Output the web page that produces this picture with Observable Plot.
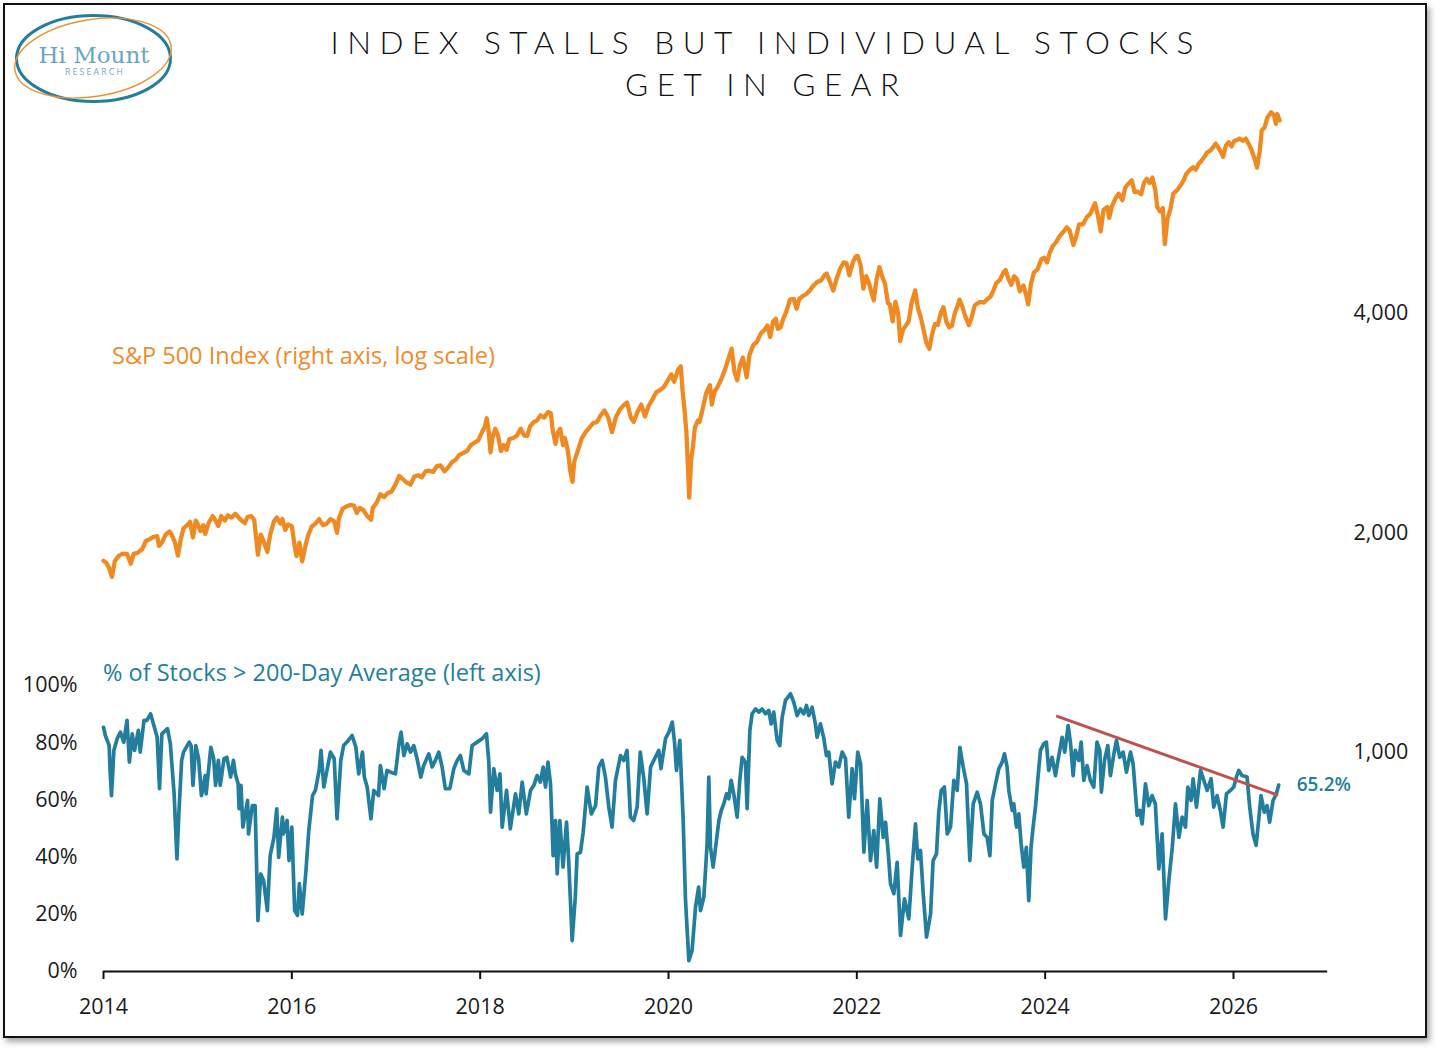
<!DOCTYPE html>
<html>
<head>
<meta charset="utf-8">
<script src="https://cdn.jsdelivr.net/npm/d3@7"></script>
<script src="https://cdn.jsdelivr.net/npm/@observablehq/plot@0.6"></script>
<style>
  html, body { margin: 0; padding: 0; background: #fff; }
  #page { position: relative; width: 1439px; height: 1050px; overflow: hidden; background: #fff; font-family: "Open Sans", sans-serif; }
  #frame { position: absolute; left: 3px; top: 3px; width: 1420px; height: 1031px; border: 2.5px solid #111; box-shadow: 3px 4px 6px rgba(0,0,0,0.35); background: #fff; }
  .layer { position: absolute; left: 0; top: 0; }
  .layer svg { overflow: visible; }
  #title { position: absolute; left: 262px; top: 21px; width: 1000px; text-align: center; font-family: "Lato", sans-serif; font-weight: 300; font-size: 31.5px; line-height: 42px; letter-spacing: 0.27em; color: #111; }
  #title span { display: block; padding-left: 0.27em; }
  .serieslabel { position: absolute; font-family: "Open Sans", sans-serif; font-size: 23.5px; white-space: nowrap; }
</style>
</head>
<body>
<div id="page">
  <div id="frame"></div>
  <svg class="layer" width="200" height="110" style="left:0;top:0">
    <ellipse cx="93.5" cy="58.5" rx="77" ry="43" fill="none" stroke="#237E9E" stroke-width="3"/>
    <ellipse cx="93" cy="58" rx="79" ry="38.5" fill="none" stroke="#EF8F2E" stroke-width="1.4" transform="rotate(-9 93 58)"/>
    <text x="94" y="63" text-anchor="middle" font-family="DejaVu Serif, Liberation Serif, serif" font-weight="200" font-size="23" fill="#6AA6C2" stroke="none">Hi Mount</text>
    <text x="95" y="74.5" text-anchor="middle" font-family="Open Sans, sans-serif" font-size="8.5" letter-spacing="2.3" fill="#6AA6C2">RESEARCH</text>
  </svg>
  <div id="title"><span>INDEX STALLS BUT INDIVIDUAL STOCKS</span><span>GET IN GEAR</span></div>
  <div id="spxchart" class="layer"></div>
  <div id="breadthchart" class="layer"></div>
  <div class="serieslabel" style="left:112px;top:339px;color:#EF8A28">S&amp;P 500 Index (right axis, log scale)</div>
  <div class="serieslabel" style="left:103px;top:656px;color:#237E9E">% of Stocks &gt; 200-Day Average (left axis)</div>
</div>
<script>
// ---------- DATA ----------
// S&P 500 index level, [decimal year, value]
const spx = [
[2014.00,1832],[2014.03,1820],[2014.06,1790],[2014.09,1741],[2014.12,1830],[2014.16,1859],[2014.20,1873],[2014.25,1872],[2014.29,1815],[2014.32,1872],[2014.36,1878],[2014.41,1900],[2014.45,1950],[2014.49,1962],[2014.53,1975],[2014.57,1980],[2014.59,1920],[2014.62,1940],[2014.66,1990],[2014.70,2010],[2014.72,1995],[2014.76,1940],[2014.79,1862],[2014.82,1960],[2014.85,2030],[2014.89,2050],[2014.92,2072],[2014.95,1972],[2014.98,2080],
[2015.00,2058],[2015.03,2012],[2015.06,2050],[2015.08,1994],[2015.12,2068],[2015.16,2110],[2015.19,2080],[2015.22,2045],[2015.25,2110],[2015.29,2080],[2015.32,2115],[2015.36,2100],[2015.40,2125],[2015.45,2090],[2015.50,2063],[2015.53,2105],[2015.57,2110],[2015.60,2085],[2015.64,1867],[2015.67,1990],[2015.70,1950],[2015.74,1884],[2015.77,1990],[2015.81,2075],[2015.84,2100],[2015.88,2060],[2015.90,2090],[2015.93,2020],[2015.96,2055],
[2016.00,2044],[2016.03,1920],[2016.05,1859],[2016.08,1940],[2016.11,1829],[2016.14,1910],[2016.17,1980],[2016.21,2040],[2016.25,2060],[2016.29,2090],[2016.33,2050],[2016.37,2060],[2016.41,2090],[2016.45,2075],[2016.48,2001],[2016.50,2095],[2016.54,2160],[2016.58,2175],[2016.62,2185],[2016.66,2180],[2016.69,2130],[2016.72,2165],[2016.76,2150],[2016.80,2110],[2016.84,2085],[2016.86,2165],[2016.90,2200],[2016.94,2260],[2016.98,2240],
[2017.02,2270],[2017.06,2280],[2017.10,2330],[2017.14,2395],[2017.18,2370],[2017.22,2345],[2017.26,2330],[2017.30,2390],[2017.34,2400],[2017.38,2385],[2017.42,2430],[2017.46,2435],[2017.50,2425],[2017.54,2470],[2017.58,2476],[2017.62,2430],[2017.66,2460],[2017.70,2500],[2017.74,2520],[2017.78,2560],[2017.82,2575],[2017.86,2590],[2017.90,2640],[2017.94,2660],[2017.98,2680],
[2018.02,2750],[2018.05,2800],[2018.07,2873],[2018.09,2762],[2018.11,2581],[2018.13,2700],[2018.16,2780],[2018.19,2720],[2018.22,2590],[2018.25,2640],[2018.28,2600],[2018.31,2690],[2018.35,2700],[2018.39,2720],[2018.43,2780],[2018.47,2720],[2018.50,2718],[2018.53,2800],[2018.57,2840],[2018.60,2850],[2018.64,2900],[2018.68,2880],[2018.72,2930],[2018.75,2920],[2018.77,2770],[2018.80,2650],[2018.82,2740],[2018.85,2780],[2018.88,2640],[2018.90,2700],[2018.93,2600],[2018.96,2420],[2018.98,2351],
[2019.00,2510],[2019.04,2600],[2019.08,2700],[2019.12,2750],[2019.16,2790],[2019.20,2830],[2019.24,2840],[2019.28,2900],[2019.32,2945],[2019.36,2880],[2019.40,2750],[2019.44,2880],[2019.48,2950],[2019.52,2990],[2019.56,3020],[2019.60,2880],[2019.63,2840],[2019.67,2930],[2019.71,3000],[2019.75,2890],[2019.79,2990],[2019.83,3050],[2019.87,3120],[2019.91,3140],[2019.95,3170],[2019.99,3235],
[2020.03,3300],[2020.06,3225],[2020.10,3345],[2020.13,3386],[2020.15,3130],[2020.17,2950],[2020.19,2750],[2020.21,2400],[2020.22,2237],[2020.24,2520],[2020.26,2630],[2020.28,2790],[2020.31,2850],[2020.33,2840],[2020.36,2950],[2020.40,3110],[2020.44,3190],[2020.46,3000],[2020.49,3130],[2020.52,3170],[2020.56,3250],[2020.60,3350],[2020.64,3480],[2020.67,3580],[2020.70,3330],[2020.73,3240],[2020.76,3400],[2020.79,3480],[2020.83,3270],[2020.86,3510],[2020.90,3620],[2020.94,3660],[2020.98,3756],
[2021.02,3800],[2021.05,3850],[2021.08,3714],[2021.11,3900],[2021.14,3935],[2021.16,3811],[2021.19,3830],[2021.22,3940],[2021.25,4020],[2021.29,4180],[2021.33,4190],[2021.36,4060],[2021.39,4190],[2021.43,4230],[2021.46,4250],[2021.50,4300],[2021.54,4370],[2021.58,4420],[2021.62,4440],[2021.66,4520],[2021.68,4537],[2021.72,4400],[2021.75,4300],[2021.78,4440],[2021.82,4600],[2021.86,4700],[2021.89,4690],[2021.92,4513],[2021.96,4710],[2021.99,4790],
[2022.01,4797],[2022.04,4660],[2022.07,4326],[2022.10,4500],[2022.13,4400],[2022.15,4300],[2022.18,4170],[2022.21,4460],[2022.24,4631],[2022.27,4490],[2022.30,4390],[2022.33,4130],[2022.35,4120],[2022.38,3901],[2022.41,4150],[2022.44,3990],[2022.46,3667],[2022.49,3800],[2022.52,3850],[2022.55,3900],[2022.58,4130],[2022.62,4305],[2022.65,4060],[2022.68,3950],[2022.71,3790],[2022.74,3640],[2022.77,3577],[2022.80,3750],[2022.83,3870],[2022.86,3860],[2022.89,4000],[2022.92,4080],[2022.95,3900],[2022.98,3830],
[2023.01,3850],[2023.04,4000],[2023.07,4100],[2023.09,4179],[2023.12,4090],[2023.15,3970],[2023.19,3855],[2023.22,3950],[2023.25,4100],[2023.28,4130],[2023.31,4150],[2023.35,4140],[2023.39,4190],[2023.42,4220],[2023.45,4300],[2023.48,4400],[2023.52,4450],[2023.56,4560],[2023.58,4589],[2023.61,4460],[2023.64,4380],[2023.67,4500],[2023.70,4460],[2023.73,4290],[2023.77,4370],[2023.80,4230],[2023.82,4117],[2023.85,4400],[2023.88,4550],[2023.92,4600],[2023.96,4750],[2023.99,4770],
[2024.02,4700],[2024.05,4850],[2024.08,4950],[2024.12,5020],[2024.15,5100],[2024.19,5170],[2024.23,5250],[2024.26,5200],[2024.30,4967],[2024.33,5100],[2024.36,5300],[2024.40,5300],[2024.44,5420],[2024.48,5480],[2024.51,5600],[2024.53,5667],[2024.56,5450],[2024.59,5186],[2024.62,5550],[2024.66,5600],[2024.68,5408],[2024.71,5620],[2024.75,5760],[2024.78,5840],[2024.82,5720],[2024.85,5950],[2024.88,6020],[2024.92,6090],[2024.95,5870],[2024.98,5880],
[2025.02,5830],[2025.05,6050],[2025.08,6119],[2025.11,6040],[2025.14,6144],[2025.17,5900],[2025.19,5600],[2025.22,5520],[2025.25,5580],[2025.27,4982],[2025.30,5400],[2025.33,5560],[2025.36,5840],[2025.40,5900],[2025.44,6000],[2025.47,6090],[2025.50,6220],[2025.54,6300],[2025.57,6350],[2025.60,6300],[2025.63,6420],[2025.66,6480],[2025.69,6560],[2025.72,6650],[2025.76,6700],[2025.79,6780],[2025.81,6840],[2025.84,6750],[2025.87,6650],[2025.89,6560],[2025.92,6800],[2025.95,6870],[2025.98,6780],
[2026.01,6900],[2026.04,6920],[2026.07,6950],[2026.10,6900],[2026.13,6950],[2026.17,6800],[2026.20,6660],[2026.23,6480],[2026.25,6340],[2026.28,6700],[2026.30,7130],[2026.33,7200],[2026.36,7430],[2026.40,7550],[2026.43,7480],[2026.45,7280],[2026.465,7510],[2026.49,7360]
];

// % of stocks above their 200-day average, [decimal year, percent]
const breadth = [
[2014.00,85.4],[2014.02,82.5],[2014.06,79.0],[2014.07,70.3],[2014.085,61.5],[2014.11,77.3],[2014.145,81.4],[2014.18,83.7],[2014.215,80.2],[2014.25,87.8],[2014.275,73.2],[2014.305,83.1],[2014.33,77.3],[2014.37,84.3],[2014.39,76.7],[2014.43,87.8],[2014.46,87.8],[2014.50,90.1],[2014.53,86.6],[2014.57,81.9],[2014.595,63.9],[2014.62,83.1],[2014.68,84.9],[2014.71,79.6],[2014.75,62.1],[2014.78,39.4],[2014.80,55.1],[2014.83,73.8],[2014.85,76.7],[2014.91,80.2],[2014.93,79.0],[2014.95,65.1],[2014.98,79.0],
[2015.01,74.4],[2015.04,61.5],[2015.08,68.5],[2015.09,62.1],[2015.14,78.4],[2015.17,74.4],[2015.19,65.1],[2015.22,73.8],[2015.24,65.1],[2015.28,74.4],[2015.31,74.9],[2015.35,68.0],[2015.38,73.8],[2015.40,69.1],[2015.43,65.6],[2015.44,56.9],[2015.46,65.1],[2015.48,50.5],[2015.53,59.8],[2015.54,48.1],[2015.58,58.0],[2015.61,58.0],[2015.64,17.8],[2015.67,34.1],[2015.70,31.8],[2015.74,21.3],[2015.77,40.5],[2015.81,46.9],[2015.84,56.9],[2015.86,39.9],[2015.90,54.0],[2015.91,48.1],[2015.95,52.8],[2015.97,38.8],
[2016.00,50.5],[2016.03,21.3],[2016.06,19.6],[2016.08,30.7],[2016.11,20.1],[2016.15,35.3],[2016.18,49.3],[2016.22,61.5],[2016.25,63.3],[2016.29,70.3],[2016.31,77.3],[2016.34,64.5],[2016.38,71.5],[2016.41,76.7],[2016.45,74.4],[2016.48,53.4],[2016.52,73.8],[2016.55,79.0],[2016.60,80.8],[2016.64,82.5],[2016.68,78.4],[2016.71,69.1],[2016.75,76.7],[2016.77,68.0],[2016.80,64.5],[2016.84,53.4],[2016.87,63.3],[2016.92,61.5],[2016.94,72.0],[2016.98,63.9],
[2017.01,70.3],[2017.05,69.7],[2017.10,69.1],[2017.14,80.2],[2017.16,83.7],[2017.19,75.5],[2017.225,79.6],[2017.26,76.7],[2017.295,79.0],[2017.33,74.4],[2017.37,68.0],[2017.40,72.0],[2017.455,76.1],[2017.49,71.5],[2017.525,73.8],[2017.56,76.7],[2017.596,71.5],[2017.63,63.9],[2017.678,63.9],[2017.72,70.9],[2017.756,73.8],[2017.79,75.5],[2017.826,70.3],[2017.88,69.1],[2017.915,79.0],[2017.968,80.2],
[2018.021,81.4],[2018.067,83.1],[2018.092,73.2],[2018.11,55.7],[2018.145,70.9],[2018.18,63.3],[2018.21,69.1],[2018.234,50.5],[2018.28,63.3],[2018.32,49.9],[2018.375,62.1],[2018.41,55.1],[2018.446,66.2],[2018.49,55.1],[2018.535,63.3],[2018.57,65.1],[2018.605,68.5],[2018.64,66.2],[2018.669,71.5],[2018.694,64.5],[2018.72,73.2],[2018.747,65.6],[2018.775,40.5],[2018.80,52.8],[2018.818,34.1],[2018.846,52.8],[2018.88,36.5],[2018.917,52.2],[2018.94,38.8],[2018.977,10.8],
[2019.01,26.0],[2019.03,41.1],[2019.065,41.7],[2019.094,48.7],[2019.136,64.5],[2019.18,55.1],[2019.225,58.0],[2019.26,71.5],[2019.296,73.8],[2019.33,68.0],[2019.366,57.5],[2019.40,50.5],[2019.437,66.8],[2019.49,75.5],[2019.525,73.8],[2019.56,77.3],[2019.596,54.0],[2019.63,52.8],[2019.667,57.5],[2019.70,76.7],[2019.738,67.4],[2019.773,55.1],[2019.81,71.5],[2019.86,74.9],[2019.897,77.3],[2019.92,70.9],[2019.968,81.4],
[2020.004,83.7],[2020.04,87.2],[2020.064,80.2],[2020.085,70.3],[2020.12,80.8],[2020.156,52.8],[2020.18,25.4],[2020.216,3.8],[2020.25,7.3],[2020.287,22.5],[2020.32,29.5],[2020.34,21.3],[2020.375,26.0],[2020.393,35.3],[2020.41,44.6],[2020.428,68.0],[2020.446,43.4],[2020.474,36.5],[2020.50,43.4],[2020.535,52.8],[2020.56,56.3],[2020.587,58.6],[2020.616,62.1],[2020.64,60.4],[2020.665,66.8],[2020.693,62.1],[2020.729,54.0],[2020.757,66.8],[2020.782,74.9],[2020.817,73.2],[2020.835,56.9],[2020.864,84.3],[2020.888,90.1],[2020.924,91.8],[2020.96,90.7],[2020.994,91.8],
[2021.03,90.1],[2021.065,91.3],[2021.09,86.6],[2021.118,90.7],[2021.154,80.8],[2021.182,79.0],[2021.207,88.9],[2021.242,94.8],[2021.295,97.1],[2021.33,94.2],[2021.366,89.5],[2021.40,91.8],[2021.437,90.1],[2021.465,93.0],[2021.49,89.5],[2021.525,92.4],[2021.56,86.6],[2021.578,81.9],[2021.614,86.6],[2021.65,81.4],[2021.677,75.5],[2021.702,76.7],[2021.737,65.6],[2021.773,73.2],[2021.808,71.5],[2021.844,76.7],[2021.88,74.4],[2021.914,54.0],[2021.95,70.9],[2021.975,60.4],
[2022.01,76.7],[2022.04,72.6],[2022.075,41.7],[2022.11,59.8],[2022.145,38.8],[2022.18,49.3],[2022.21,36.5],[2022.244,60.4],[2022.28,46.9],[2022.305,52.2],[2022.34,38.8],[2022.357,30.7],[2022.393,27.2],[2022.428,38.2],[2022.464,12.6],[2022.506,25.4],[2022.552,18.4],[2022.588,36.5],[2022.623,51.6],[2022.648,39.4],[2022.676,42.3],[2022.705,27.2],[2022.74,12.0],[2022.783,20.1],[2022.81,38.8],[2022.846,41.1],[2022.87,55.7],[2022.896,63.3],[2022.93,64.5],[2022.96,48.1],[2022.995,50.5],
[2023.03,66.8],[2023.066,63.3],[2023.094,78.4],[2023.13,71.5],[2023.165,65.6],[2023.20,38.8],[2023.236,58.6],[2023.278,62.7],[2023.313,58.6],[2023.35,48.1],[2023.384,46.9],[2023.413,40.5],[2023.438,59.8],[2023.473,65.6],[2023.508,70.9],[2023.543,73.2],[2023.568,76.1],[2023.596,71.5],[2023.614,63.3],[2023.65,56.3],[2023.667,58.6],[2023.695,50.5],[2023.72,55.1],[2023.745,44.6],[2023.773,36.5],[2023.80,43.4],[2023.826,24.8],[2023.85,43.4],[2023.872,50.5],[2023.897,57.5],[2023.921,66.8],[2023.95,77.3],[2023.985,79.6],
[2024.013,80.2],[2024.038,70.3],[2024.074,74.9],[2024.109,68.5],[2024.145,75.5],[2024.18,81.9],[2024.208,76.7],[2024.244,86.0],[2024.27,79.6],[2024.297,68.5],[2024.32,77.3],[2024.357,73.8],[2024.382,80.2],[2024.41,66.8],[2024.445,72.0],[2024.48,66.8],[2024.516,64.5],[2024.55,80.2],[2024.58,77.3],[2024.597,62.7],[2024.63,73.8],[2024.665,79.0],[2024.693,68.5],[2024.73,76.1],[2024.757,80.8],[2024.792,74.9],[2024.828,76.7],[2024.863,69.7],[2024.906,76.7],[2024.934,72.6],[2024.977,54.6],
[2025.005,56.3],[2025.03,51.6],[2025.065,65.6],[2025.10,58.0],[2025.136,61.5],[2025.17,58.6],[2025.207,35.9],[2025.242,48.1],[2025.278,18.4],[2025.313,31.8],[2025.35,43.4],[2025.384,58.6],[2025.42,46.9],[2025.455,54.0],[2025.49,50.5],[2025.515,64.5],[2025.55,59.8],[2025.571,67.4],[2025.607,57.5],[2025.65,70.3],[2025.685,66.8],[2025.72,63.3],[2025.762,67.4],[2025.79,57.5],[2025.826,61.5],[2025.86,56.3],[2025.89,50.5],[2025.925,62.1],[2025.967,63.3],
[2026.003,64.5],[2026.031,68.0],[2026.056,70.3],[2026.09,68.5],[2026.144,68.0],[2026.172,57.5],[2026.207,48.1],[2026.24,44.1],[2026.267,52.8],[2026.292,61.5],[2026.327,55.7],[2026.356,58.0],[2026.384,52.2],[2026.42,59.8],[2026.455,62.1],[2026.48,65.2]
];

// declining trend line drawn across the breadth highs
const trend = [[2024.13, 89.2], [2026.46, 61.8]];

// axis ticks
const xTicks = [2014, 2016, 2018, 2020, 2022, 2024, 2026];
const xAxisEnd = 2027;
const leftTicks = [0, 20, 40, 60, 80, 100];
const rightTicks = [1000, 2000, 4000];

// ---------- STYLE ----------
const ORANGE = "#EF8A22";
const TEAL = "#237E9E";
const RED = "#C0504D";
const W = 1439, H = 1050;
const xScale = {domain: [2014, 2026], range: [103, 1233]};
const baseStyle = {fontFamily: "Open Sans, sans-serif", fontSize: "21.5px", color: "#1a1a1a", background: "transparent", overflow: "visible"};

// S&P 500 (right, log axis)
const spxPlot = Plot.plot({
  width: W, height: H,
  marginLeft: 103, marginRight: 89, marginTop: 100, marginBottom: 79,
  style: baseStyle,
  x: {...xScale, axis: null},
  y: {type: "log", domain: [1000, 4000], range: [752, 313], axis: null},
  marks: [
    Plot.axisY({anchor: "right", ticks: rightTicks, tickFormat: d3.format(","), tickSize: 0, tickPadding: 3, fill: "#1a1a1a", label: null}),
    Plot.line(spx, {x: d => d[0], y: d => d[1], stroke: ORANGE, strokeWidth: 4.3, strokeLinejoin: "round", strokeLinecap: "round"})
  ]
});
document.getElementById("spxchart").appendChild(spxPlot);

// Breadth (left axis)
const breadthPlot = Plot.plot({
  width: W, height: H,
  marginLeft: 103, marginRight: 89, marginTop: 100, marginBottom: 79,
  style: baseStyle,
  x: {...xScale, axis: null},
  y: {domain: [0, 100], range: [971, 685], axis: null},
  marks: [
    Plot.axisY({anchor: "left", ticks: leftTicks, tickFormat: d => d + "%", tickSize: 0, tickPadding: 26, fill: "#1a1a1a", label: null}),
    Plot.axisX({ticks: xTicks, tickFormat: d => String(d), tickSize: 8, tickPadding: 19, stroke: "#111", strokeWidth: 2, fill: "#1a1a1a", label: null}),
    Plot.ruleY([{y: 0, a: 2014, b: xAxisEnd}], {y: "y", x1: "a", x2: "b", stroke: "#111", strokeWidth: 2.2}),
    Plot.line(breadth, {x: d => d[0], y: d => d[1], stroke: TEAL, strokeWidth: 3.7, strokeLinejoin: "round", strokeLinecap: "round"}),
    Plot.line(trend, {x: d => d[0], y: d => d[1], stroke: RED, strokeWidth: 3}),
    Plot.text([breadth[breadth.length - 1]], {x: d => d[0], y: d => d[1], text: d => d[1].toFixed(1) + "%", dx: 18, textAnchor: "start", fill: TEAL, fontSize: 19, fontWeight: 600})
  ]
});
document.getElementById("breadthchart").appendChild(breadthPlot);
</script>
</body>
</html>
